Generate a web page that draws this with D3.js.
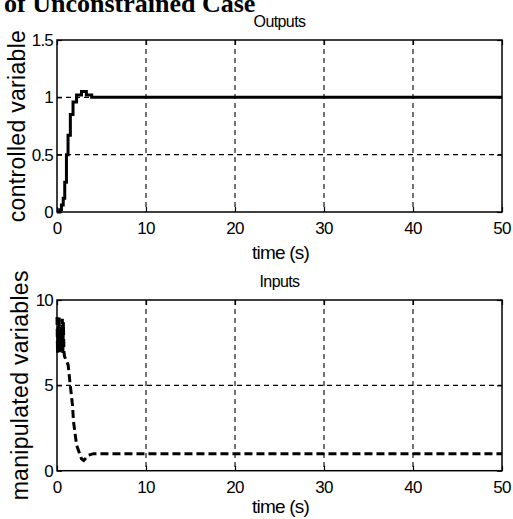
<!DOCTYPE html>
<html>
<head>
<meta charset="utf-8">
<script src="https://cdn.jsdelivr.net/npm/d3@7"></script>
<style>
  html, body { margin: 0; padding: 0; background: #fff; }
  svg { display: block; }
  text { fill: #000; }
</style>
</head>
<body>
<svg id="fig" width="513" height="519"></svg>
<script>
// Closed-loop response, unconstrained case
const outTime  = [0, 0.3, 0.5, 0.7, 0.87, 1.06, 1.24, 1.5, 1.8, 2.2, 2.75, 3.3, 3.9, 50];
const outValue = [0, 0.02, 0.06, 0.12, 0.26, 0.5, 0.67, 0.85, 0.96, 1.02, 1.05, 1.02, 1.0, 1.0];

// manipulated input: fast chattering during the first sample period, then settling
const inTime  = [0, 0.06, 0.12, 0.18, 0.24, 0.3, 0.36, 0.42, 0.48, 0.54, 0.6, 0.66, 0.72, 0.78, 0.84, 1.0, 1.25, 1.45, 1.75, 1.85, 2.2, 2.75, 3.0, 3.5, 4.1, 50];
const inValue = [9.0, 6.9, 8.4, 7.0, 9.0, 6.9, 8.3, 7.1, 8.4, 7.0, 8.9, 6.9, 8.7, 7.0, 6.7, 6.5, 6.2, 5.2, 3.8, 2.9, 1.5, 0.7, 0.6, 0.9, 1.0, 1.0];

const xTicks = [0, 10, 20, 30, 40, 50];
const outTicks = [0, 0.5, 1, 1.5];
const inTicks = [0, 5, 10];

const svg = d3.select("#fig");
const FONT = "'Liberation Sans', Arial, sans-serif";

// page heading, partially clipped by the page top
svg.append("text")
  .attr("x", 4).attr("y", 12)
  .attr("font-family", "'Liberation Serif', 'Times New Roman', serif")
  .attr("font-weight", "bold")
  .attr("font-size", 26)
  .text("of Unconstrained Case");

const left = 57, right = 502;
const x = d3.scaleLinear().domain([0, 50]).range([left, right]);

function panel(cfg) {
  const y = d3.scaleLinear().domain(cfg.domain).range([cfg.bottom, cfg.top]);
  const g = svg.append("g");

  // dashed grid at interior ticks
  g.selectAll(".vg").data(xTicks.slice(1, -1)).join("line")
    .attr("x1", d => x(d)).attr("x2", d => x(d))
    .attr("y1", cfg.top).attr("y2", cfg.bottom)
    .attr("stroke", "#000").attr("stroke-width", 1.1)
    .attr("stroke-dasharray", "5,4");
  g.selectAll(".hg").data(cfg.ticks.slice(1, -1)).join("line")
    .attr("x1", left).attr("x2", right)
    .attr("y1", d => y(d)).attr("y2", d => y(d))
    .attr("stroke", "#000").attr("stroke-width", 1.1)
    .attr("stroke-dasharray", "5,4");

  // inward tick marks on all four sides
  const tl = 5;
  const xb = d3.axisBottom(x).tickValues(xTicks).tickSizeInner(-tl).tickSizeOuter(0).tickFormat("");
  const xt = d3.axisTop(x).tickValues(xTicks).tickSizeInner(-tl).tickSizeOuter(0).tickFormat("");
  const yl = d3.axisLeft(y).tickValues(cfg.ticks).tickSizeInner(-tl).tickSizeOuter(0).tickFormat("");
  const yr = d3.axisRight(y).tickValues(cfg.ticks).tickSizeInner(-tl).tickSizeOuter(0).tickFormat("");
  [[xb, `translate(0,${cfg.bottom})`], [xt, `translate(0,${cfg.top})`],
   [yl, `translate(${left},0)`], [yr, `translate(${right},0)`]].forEach(([ax, tr]) => {
    const a = g.append("g").attr("transform", tr).call(ax);
    a.select(".domain").remove();
    a.selectAll("line").attr("stroke", "#000").attr("stroke-width", 1.2);
  });

  // tick labels
  g.selectAll(".xl").data(xTicks).join("text")
    .attr("x", d => x(d)).attr("y", cfg.bottom + 22)
    .attr("text-anchor", "middle")
    .attr("font-family", FONT).attr("font-size", 17).attr("letter-spacing", -0.8)
    .text(d => d);
  g.selectAll(".yl").data(cfg.ticks).join("text")
    .attr("x", left - 4).attr("y", d => y(d) + 6)
    .attr("text-anchor", "end")
    .attr("font-family", FONT).attr("font-size", 17).attr("letter-spacing", -0.8)
    .text(d => d);

  // data trace
  const line = d3.line().x(d => x(d[0])).y(d => y(d[1])).curve(cfg.curve);
  g.append("path")
    .datum(d3.zip(cfg.t, cfg.v))
    .attr("d", line)
    .attr("fill", "none")
    .attr("stroke", "#000")
    .attr("stroke-width", 3)
    .attr("stroke-linejoin", "miter")
    .attr("stroke-dasharray", cfg.dash);

  // frame
  g.append("rect")
    .attr("x", left).attr("y", cfg.top)
    .attr("width", right - left).attr("height", cfg.bottom - cfg.top)
    .attr("fill", "none").attr("stroke", "#000").attr("stroke-width", 1.5);

  // titles and labels
  g.append("text")
    .attr("x", (left + right) / 2).attr("y", cfg.top - 13)
    .attr("text-anchor", "middle")
    .attr("font-family", FONT).attr("font-size", 16).attr("letter-spacing", -0.6)
    .text(cfg.title);
  g.append("text")
    .attr("x", (left + right) / 2 + 1).attr("y", cfg.xlabY)
    .attr("text-anchor", "middle")
    .attr("font-family", FONT).attr("font-size", 19).attr("letter-spacing", -0.8)
    .text("time (s)");
  g.append("text")
    .attr("transform", `translate(${cfg.ylabX},${(cfg.top + cfg.bottom) / 2}) rotate(-90)`)
    .attr("text-anchor", "middle")
    .attr("font-family", FONT).attr("font-size", 23).attr("letter-spacing", 0.3)
    .text(cfg.ylabel);
}

panel({
  top: 40, bottom: 212, domain: [0, 1.5], ticks: outTicks,
  t: outTime, v: outValue, curve: d3.curveStepAfter, dash: null,
  title: "Outputs", ylabel: "controlled variable", ylabX: 25, xlabY: 259
});

panel({
  top: 300, bottom: 470.7, domain: [0, 10], ticks: inTicks,
  t: inTime, v: inValue, curve: d3.curveLinear, dash: "8,4",
  title: "Inputs", ylabel: "manipulated variables", ylabX: 28, xlabY: 513
});
</script>
</body>
</html>
